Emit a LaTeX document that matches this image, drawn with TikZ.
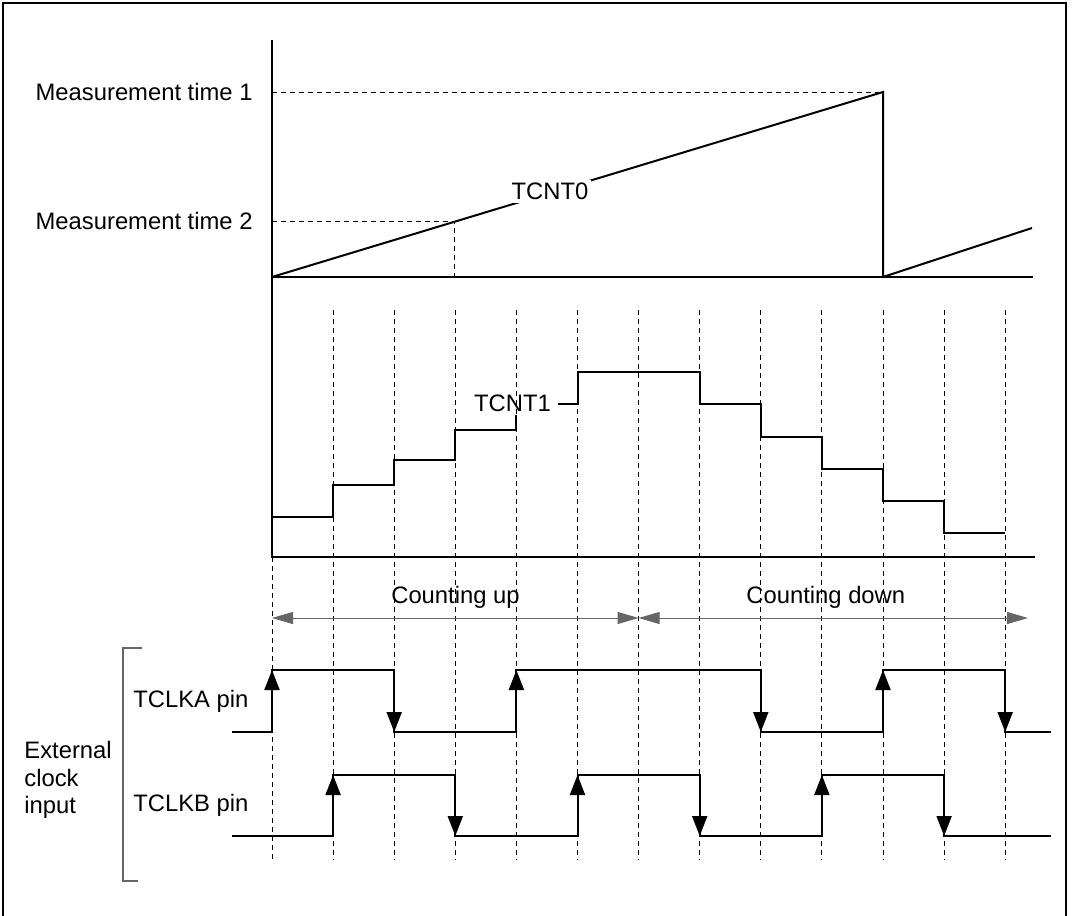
\documentclass[tikz,border=0pt]{standalone}
\usepackage{fontspec}
\setmainfont{Liberation Sans}
\usetikzlibrary{arrows.meta}
\begin{document}
\begin{tikzpicture}[x=0.5pt,y=-0.5pt,
  font=\fontsize{11.9}{13.75}\selectfont,
  sig/.style={line width=1pt, line join=miter},
  guide/.style={line width=0.5pt, dash pattern=on 2.5pt off 2pt},
  edgearrow/.style={line width=1pt,-{Triangle[length=10pt,width=7.5pt]}},
  span/.style={line width=0.5pt, draw=black!60, {Triangle[length=10.5pt,width=6pt]}-{Triangle[length=10.5pt,width=6pt]}},
  lbl/.style={inner sep=0pt}
]
\useasboundingbox (0,0) rectangle (1073,916);
% frame
\draw[line width=0.8pt] (3,916) -- (3,3) -- (1066,3) -- (1066,916);

% guide lines (time grid)
\draw[guide] (272,557) -- (272,860);
\foreach \i in {1,...,12}
  \draw[guide] ({272+61.1*\i},310) -- ({272+61.1*\i},860);

% axes
\draw[sig] (272,40) -- (272,557) -- (1035,557);
\draw[sig] (272,277) -- (1033,277);

% TCNT0
\draw[guide] (272,92) -- (883,92);
\draw[guide] (272,221) -- (454,221) -- (454,277);
\draw[sig] (272,277) -- (883,92) -- (883,277) -- (1032,228);
\node[fill=white, inner sep=1.5pt] (tcnt0) at (550,191.5) {TCNT0};
\node[lbl, anchor=east] (mt1) at (253,92) {Measurement time 1};
\node[lbl, anchor=east] (mt2) at (253,221) {Measurement time 2};

% TCNT1
\draw[sig] (272,517) -- (333.1,517) -- (333.1,485) -- (394.2,485) -- (394.2,460)
  -- (455.3,460) -- (455.3,430) -- (516.4,430) -- (516.4,415);
\node[lbl, anchor=base] (tcnt1) at (512.5,411.7) {TCNT1};
\draw[sig] (558,404) -- (577.5,404) -- (577.5,372) -- (699.7,372) -- (699.7,404)
  -- (760.8,404) -- (760.8,437) -- (821.9,437) -- (821.9,469) -- (883,469)
  -- (883,501) -- (944.1,501) -- (944.1,533) -- (1005.2,533);

% counting arrows
\coordinate (c0) at (272,618);
\coordinate (c1) at (638.6,618);
\coordinate (c2) at (1028,618);
\draw[span] (c0) -- (c1);
\draw[span] (c1) -- (c2);
\node[lbl, anchor=base] (up) at (455.5,603.3) {Counting up};
\node[lbl, anchor=base] (down) at (825.8,603.3) {Counting down};

% TCLKA
\draw[sig] (232,732) -- (272,732) -- (272,670) -- (394.2,670) -- (394.2,732)
  -- (516.4,732) -- (516.4,670) -- (760.8,670) -- (760.8,732) -- (883,732)
  -- (883,670) -- (1005.2,670) -- (1005.2,732) -- (1051,732);
\draw[edgearrow] (272,732) -- (272,670);
\draw[edgearrow] (394.2,670) -- (394.2,732);
\draw[edgearrow] (516.4,732) -- (516.4,670);
\draw[edgearrow] (760.8,670) -- (760.8,732);
\draw[edgearrow] (883,732) -- (883,670);
\draw[edgearrow] (1005.2,670) -- (1005.2,732);

% TCLKB
\draw[sig] (232,836) -- (333.1,836) -- (333.1,775) -- (455.3,775) -- (455.3,836)
  -- (577.5,836) -- (577.5,775) -- (699.7,775) -- (699.7,836) -- (821.9,836)
  -- (821.9,775) -- (944.1,775) -- (944.1,836) -- (1051,836);
\draw[edgearrow] (333.1,836) -- (333.1,775);
\draw[edgearrow] (455.3,775) -- (455.3,836);
\draw[edgearrow] (577.5,836) -- (577.5,775);
\draw[edgearrow] (699.7,775) -- (699.7,836);
\draw[edgearrow] (821.9,836) -- (821.9,775);
\draw[edgearrow] (944.1,775) -- (944.1,836);

% labels
\node[lbl, anchor=base west] (pa) at (133,707) {TCLKA pin};
\node[lbl, anchor=base west] (pb) at (133,811) {TCLKB pin};
\node[lbl, anchor=base west] (ext1) at (24,758) {External};
\node[lbl, anchor=base west] (ext2) at (24,786) {clock};
\node[lbl, anchor=base west] (ext3) at (24,813) {input};
\draw[line width=0.6pt, draw=black!60] (142,648) -- (123,648) -- (123,881) -- (138,881);
\end{tikzpicture}
\end{document}
